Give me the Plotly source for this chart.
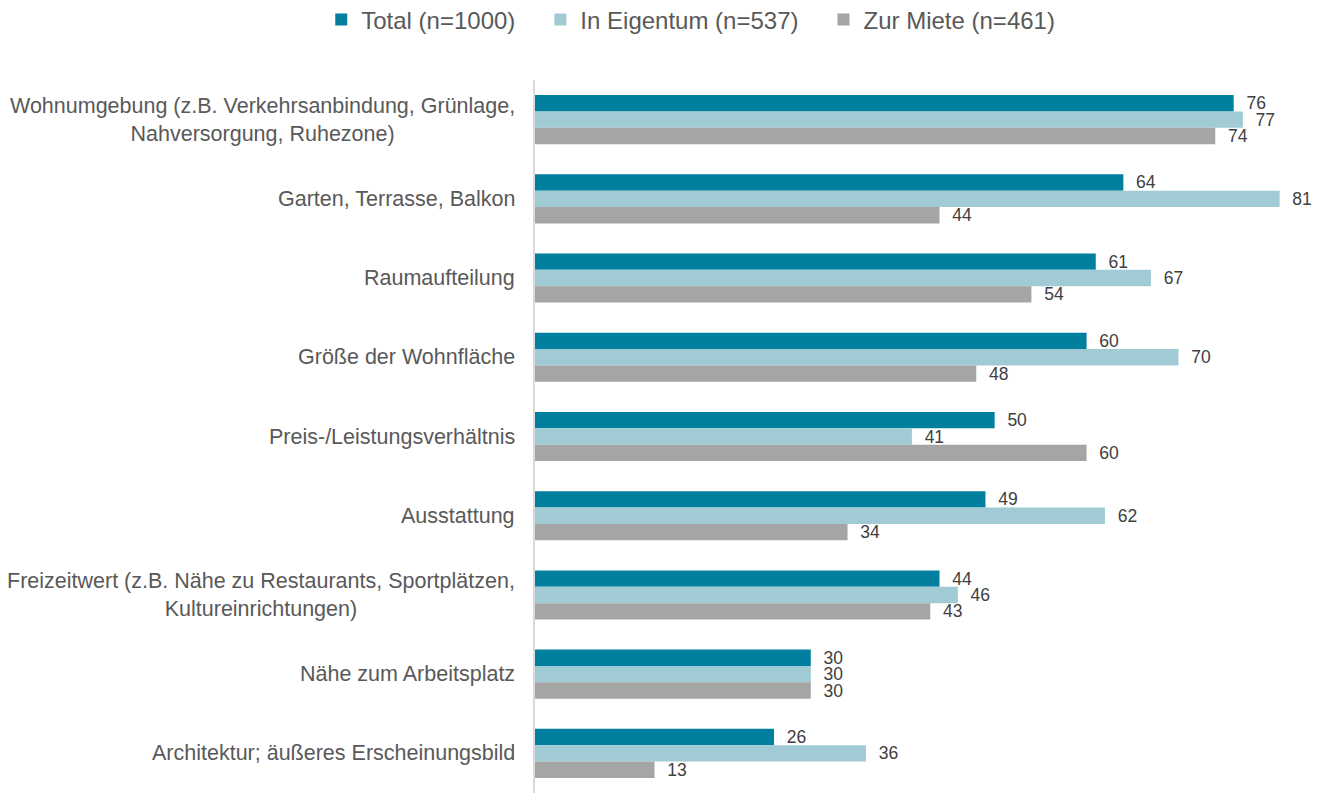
import plotly.graph_objects as go

categories = [
    "Wohnumgebung (z.B. Verkehrsanbindung, Grünlage,<br>Nahversorgung, Ruhezone)",
    "Garten, Terrasse, Balkon",
    "Raumaufteilung",
    "Größe der Wohnfläche",
    "Preis-/Leistungsverhältnis",
    "Ausstattung",
    "Freizeitwert (z.B. Nähe zu Restaurants, Sportplätzen,<br>Kultureinrichtungen)",
    "Nähe zum Arbeitsplatz",
    "Architektur; äußeres Erscheinungsbild",
]
total = [76, 64, 61, 60, 50, 49, 44, 30, 26]
eigentum = [77, 81, 67, 70, 41, 62, 46, 30, 36]
miete = [74, 44, 54, 48, 60, 34, 43, 30, 13]

series_names = ["Total (n=1000)", "In Eigentum (n=537)", "Zur Miete (n=461)"]
series_values = [total, eigentum, miete]
series_colors = ["#007F9F", "#A0CBD5", "#A5A5A5"]

FONT = "Liberation Sans, Arial, sans-serif"
PAD = "\u00a0\u00a0"
LEG_GAP = "\u00a0\u00a0\u00a0"

fig = go.Figure()
for i, (name, vals, col) in enumerate(zip(series_names, series_values, series_colors)):
    fig.add_trace(go.Bar(
        name=name + (LEG_GAP if i < 2 else ""), y=categories, x=vals, orientation="h",
        marker=dict(color=col, line=dict(width=0)),
        text=[PAD + str(v) for v in vals], textposition="outside",
        textfont=dict(family=FONT, size=17.5, color="#404040"),
        cliponaxis=False, constraintext="none",
    ))

for c in categories:
    fig.add_annotation(
        x=0, xref="paper", y=c, yref="y", text=c, showarrow=False,
        xanchor="right", yanchor="middle", align="center", xshift=-18,
        font=dict(family=FONT, size=21.5, color="#595959"),
    )

fig.update_layout(
    width=1313, height=785,
    margin=dict(l=527, r=0, t=72, b=0, autoexpand=False),
    barmode="group", bargap=0.38, bargroupgap=0,
    plot_bgcolor="white", paper_bgcolor="white",
    font=dict(family=FONT, color="#595959", size=17),
    legend=dict(
        orientation="h", xref="container", yref="container",
        x=0.520, y=0.985, xanchor="center", yanchor="middle",
        font=dict(family=FONT, size=24, color="#595959"), traceorder="normal",
        itemwidth=30,
    ),
    xaxis=dict(range=[0, 85.5], visible=False, showgrid=False, zeroline=False),
    yaxis=dict(
        autorange="reversed", showline=True, linecolor="#D9D9D9", linewidth=1.5,
        ticks="", showticklabels=False, showgrid=False, automargin=False,
    ),
)

fig.write_html("out.html")
